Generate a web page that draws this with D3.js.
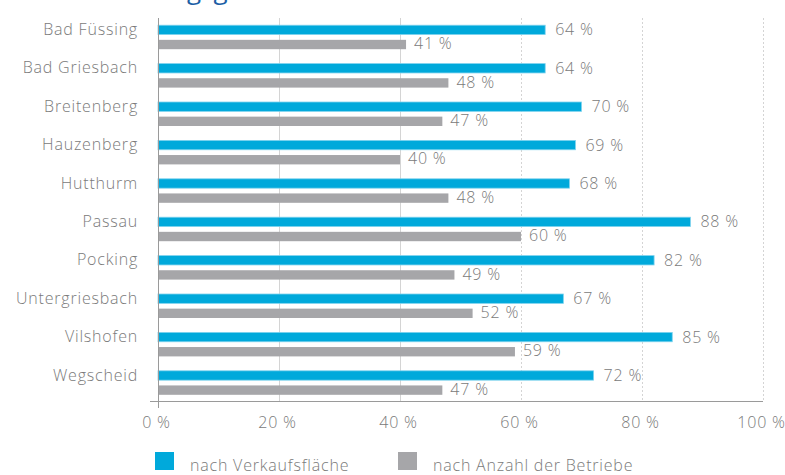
<!DOCTYPE html>
<html>
<head>
<meta charset="utf-8">
<script src="https://cdn.jsdelivr.net/npm/d3@7"></script>
<style>
    body { margin: 0; background: #fff; }
    svg { font-family: 'Open Sans', sans-serif; }
    .lbl { font-size: 16px; font-weight: 300; letter-spacing: 0.8px; fill: #7a7a7a; }
</style>
</head>
<body>
<svg id="chart" width="785" height="475"></svg>
<script>
const categories = ['Bad Füssing', 'Bad Griesbach', 'Breitenberg', 'Hauzenberg', 'Hutthurm',
    'Passau', 'Pocking', 'Untergriesbach', 'Vilshofen', 'Wegscheid'];
const verkaufsflaeche = [64, 64, 70, 69, 68, 88, 82, 67, 85, 72];
const betriebe = [41, 48, 47, 40, 48, 60, 49, 52, 59, 47];
const xTicks = [0, 20, 40, 60, 80, 100];
const seriesNames = ['nach Verkaufsfläche', 'nach Anzahl der Betriebe'];

const colors = ['#00a9db', '#a6a6a9'];

const svg = d3.select('#chart');

// title, only its descenders show at the top edge
const title = svg.append('text')
    .attr('y', -1)
    .attr('font-size', 26)
    .attr('fill', '#1d5fa6')
    .text('Filialisierungsgrad');
const gPos = title.node().getSubStringLength(0, 13);
title.attr('x', 187 - gPos);

const x = d3.scaleLinear().domain([0, 100]).range([158, 763]);
const y = d3.scaleBand().domain(categories).range([18, 402]);
const inner = d3.scaleBand().domain([0, 1]).range([0, 24]).paddingInner(0.36);
const groupOff = (y.bandwidth() - 24) / 2;

// grid
svg.append('g')
    .selectAll('line')
    .data(xTicks.slice(1))
    .join('line')
    .attr('x1', d => x(d) + 0.5)
    .attr('x2', d => x(d) + 0.5)
    .attr('y1', 18)
    .attr('y2', 401)
    .attr('stroke', '#d4d4d4')
    .attr('stroke-dasharray', d => d >= 60 ? '2,2' : null)
    .attr('stroke-width', 1);

const data = categories.map((c, i) => ({ c, v: [verkaufsflaeche[i], betriebe[i]] }));

const groups = svg.append('g')
    .selectAll('g')
    .data(data)
    .join('g')
    .attr('transform', d => `translate(0,${y(d.c) + groupOff})`);

groups.selectAll('rect')
    .data(d => d.v.map((v, k) => ({ v, k })))
    .join('rect')
    .attr('x', x(0))
    .attr('y', d => inner(d.k))
    .attr('width', d => x(d.v) - x(0))
    .attr('height', inner.bandwidth())
    .attr('fill', d => colors[d.k])
    .attr('stroke', d => d.k === 0 ? '#7fd3ee' : 'none')
    .attr('stroke-width', 0.8);

groups.selectAll('text.val')
    .data(d => d.v.map((v, k) => ({ v, k })))
    .join('text')
    .attr('class', 'val lbl')
    .attr('x', d => x(d.v) + (d.k === 0 ? 10 : 8))
    .attr('y', d => inner(d.k) + inner.bandwidth() / 2 - (d.k === 1 ? 1 : 0))
    .attr('dy', '0.35em')
    .text(d => d.v + ' %');

// category labels
svg.append('g')
    .selectAll('text')
    .data(categories)
    .join('text')
    .attr('class', 'lbl')
    .attr('x', 138)
    .attr('y', d => y(d) + groupOff + inner(0) + inner.bandwidth() / 2 - 0.5)
    .attr('dy', '0.35em')
    .attr('text-anchor', 'end')
    .text(d => d);

// axes lines
svg.append('line')
    .attr('x1', 150).attr('x2', 763)
    .attr('y1', 401.5).attr('y2', 401.5)
    .attr('stroke', '#9a9a9a');
svg.append('line')
    .attr('x1', x(0) + 0.5).attr('x2', x(0) + 0.5)
    .attr('y1', 18).attr('y2', 408)
    .attr('stroke', '#9a9a9a');

const xAxis = svg.append('g')
    .attr('transform', 'translate(0,401)')
    .call(d3.axisBottom(x).tickValues(xTicks).tickFormat(d => d + ' %').tickSize(0).tickPadding(16));
xAxis.select('.domain').remove();
xAxis.selectAll('text')
    .attr('class', 'lbl')
    .attr('font-family', "'Open Sans', sans-serif")
    .attr('dx', -2);

// legend
const legend = svg.append('g')
    .selectAll('g')
    .data(seriesNames)
    .join('g')
    .attr('transform', (d, i) => `translate(${i === 0 ? 155 : 398},452)`);
legend.append('rect')
    .attr('width', 19)
    .attr('height', 18)
    .attr('fill', (d, i) => colors[i]);
legend.append('text')
    .attr('class', 'lbl')
    .attr('x', 35)
    .attr('y', 19)
    .text(d => d);
</script>
</body>
</html>
